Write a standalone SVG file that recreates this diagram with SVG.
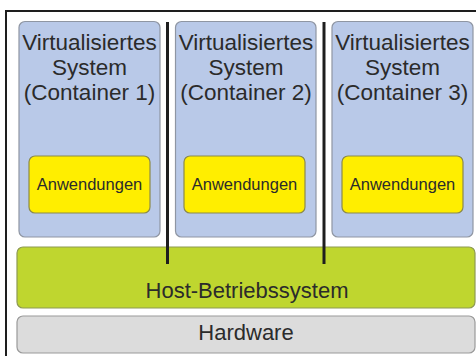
<svg xmlns="http://www.w3.org/2000/svg" width="476" height="356" viewBox="0 0 476 356">
  <style>
    .txt { font-family: "Liberation Sans", Arial, sans-serif; fill: #2b2b2b; text-anchor: middle; }
    .big { font-size: 22.5px; }
    .layer { font-size: 22px; }
    .small { font-size: 16.5px; }
    .container { fill: #b9c9e8; stroke: #8f96a3; stroke-width: 1.2; }
    .app { fill: #ffee00; stroke: #8c8a4a; stroke-width: 1.2; }
    .host { fill: #bfd62f; stroke: #8e9a52; stroke-width: 1.2; }
    .hw { fill: #dcdcdc; stroke: #9a9a9a; stroke-width: 1.2; }
    .sep { stroke: #1e1e1e; stroke-width: 3; }
  </style>

  <rect width="476" height="356" fill="#ffffff"/>

  <!-- outer frame (open to the right and bottom) -->
  <path d="M6,356 V11 H476" fill="none" stroke="#1e1e1e" stroke-width="2"/>

  <g id="host">
    <rect class="host" x="17" y="247" width="458" height="61" rx="6"/>
    <text class="txt layer" x="247" y="298">Host-Betriebssystem</text>
  </g>

  <g id="hardware">
    <rect class="hw" x="17" y="316" width="458" height="37" rx="6"/>
    <text class="txt layer" x="246" y="340">Hardware</text>
  </g>

  <g id="container1">
    <rect class="container" x="19" y="21.5" width="141" height="215.5" rx="6"/>
    <text class="txt big" x="89.5" y="50">Virtualisiertes</text>
    <text class="txt big" x="89.5" y="75">System</text>
    <text class="txt big" x="89.5" y="100">(Container 1)</text>
    <g id="app1">
      <rect class="app" x="29" y="156" width="121" height="57" rx="6"/>
      <text class="txt small" x="89.5" y="190">Anwendungen</text>
    </g>
  </g>

  <g id="container2">
    <rect class="container" x="175.5" y="21.5" width="140.5" height="215.5" rx="6"/>
    <text class="txt big" x="246" y="50">Virtualisiertes</text>
    <text class="txt big" x="246" y="75">System</text>
    <text class="txt big" x="246" y="100">(Container 2)</text>
    <g id="app2">
      <rect class="app" x="184" y="156" width="121" height="57" rx="6"/>
      <text class="txt small" x="244.5" y="190">Anwendungen</text>
    </g>
  </g>

  <g id="container3">
    <rect class="container" x="332" y="21.5" width="141" height="215.5" rx="6"/>
    <text class="txt big" x="402.5" y="50">Virtualisiertes</text>
    <text class="txt big" x="402.5" y="75">System</text>
    <text class="txt big" x="402.5" y="100">(Container 3)</text>
    <g id="app3">
      <rect class="app" x="342" y="156" width="121" height="57" rx="6"/>
      <text class="txt small" x="402.5" y="190">Anwendungen</text>
    </g>
  </g>

  <!-- isolation walls between containers, reaching into the host layer -->
  <g id="connectors">
    <line class="sep" x1="167.5" y1="22" x2="167.5" y2="264"/>
    <line class="sep" x1="324" y1="22" x2="324" y2="264"/>
  </g>
</svg>
